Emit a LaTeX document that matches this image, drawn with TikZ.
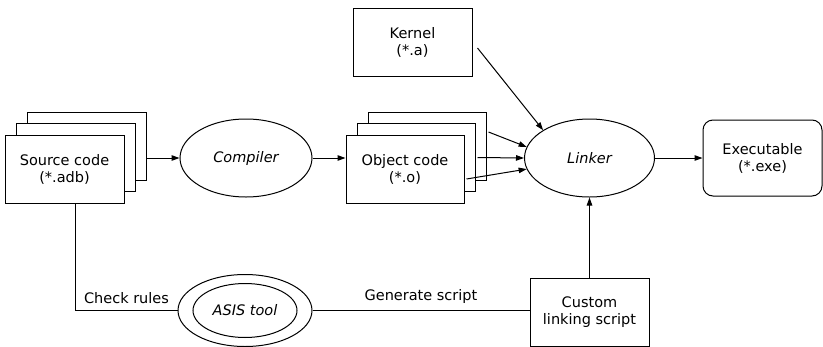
\documentclass[tikz,border=0pt]{standalone}
\usepackage{fontspec}
\setmainfont{DejaVu Sans}
\usetikzlibrary{shapes.geometric,arrows.meta}
\begin{document}
\begin{tikzpicture}[x=1pt,y=-1pt,
  every node/.style={font=\fontsize{14.5}{17}\selectfont},
  box/.style={draw,line width=1pt,fill=white,minimum width=119pt,minimum height=68pt,align=center,inner sep=0pt},
  oval/.style={draw,ellipse,line width=1pt,fill=white,inner sep=0pt,font=\fontsize{14.5}{17}\selectfont\itshape},
  arr/.style={line width=1pt,-{Triangle[length=8pt,width=5.5pt]}},
  conn/.style={line width=1pt}]
\useasboundingbox (0,0) rectangle (823,346);
% source code stack
\node[box] (src3) at (86.5,146.5) {};
\node[box] (src2) at (75.5,157.5) {};
\node[box] (src1) at (64.5,169) {Source code\\(*.adb)};
% compiler
\node[oval,minimum width=132pt,minimum height=78pt] (comp) at (246,158) {Compiler};
% object code stack
\node[box,minimum width=118pt] (obj3) at (427,146.5) {};
\node[box,minimum width=118pt] (obj2) at (416,157.5) {};
\node[box,minimum width=118pt] (obj1) at (405,169) {Object code\\(*.o)};
% kernel
\node[box] (kern) at (412.5,42) {Kernel\\(*.a)};
% linker
\node[oval,minimum width=130pt,minimum height=78pt] (link) at (589.5,158) {Linker};
% executable
\node[box,rounded corners=10pt,minimum height=76pt] (exe) at (762.5,158) {Executable\\(*.exe)};
% ASIS tool
\node[oval,minimum width=134pt,minimum height=72pt] (asis) at (245,310.5) {};
\node[oval,minimum width=104pt,minimum height=54pt] (asisin) at (asis.center) {ASIS tool};
% custom linking script
\node[box] (cust) at (589.5,312) {Custom\\linking script};
% connectors
\draw[arr] (src3.east |- comp.west) -- (comp.west);
\draw[arr] (comp.east) -- (comp.east -| obj1.west);
\draw[arr] ([xshift=2pt,yshift=14.5pt]obj3.east) -- (link.170);
\draw[arr] ([xshift=2pt]obj2.east) -- (link.west);
\draw[arr] ([xshift=2pt,yshift=-10pt]obj1.east) -- (link.190);
\draw[arr] ([xshift=5pt,yshift=-6pt]kern.east) -- (link.149);
\draw[arr] (link.east) -- (exe.west);
\draw[arr] (cust.north) -- (link.south);
\draw[conn] (src2.south |- src1.south) -- (src2.south |- asis.west)
  -- node[above=3pt] {Check rules} (asis.west);
\draw[conn] (asis.east) -- node[above=3pt] {Generate script} (asis.east -| cust.west);
\end{tikzpicture}
\end{document}
